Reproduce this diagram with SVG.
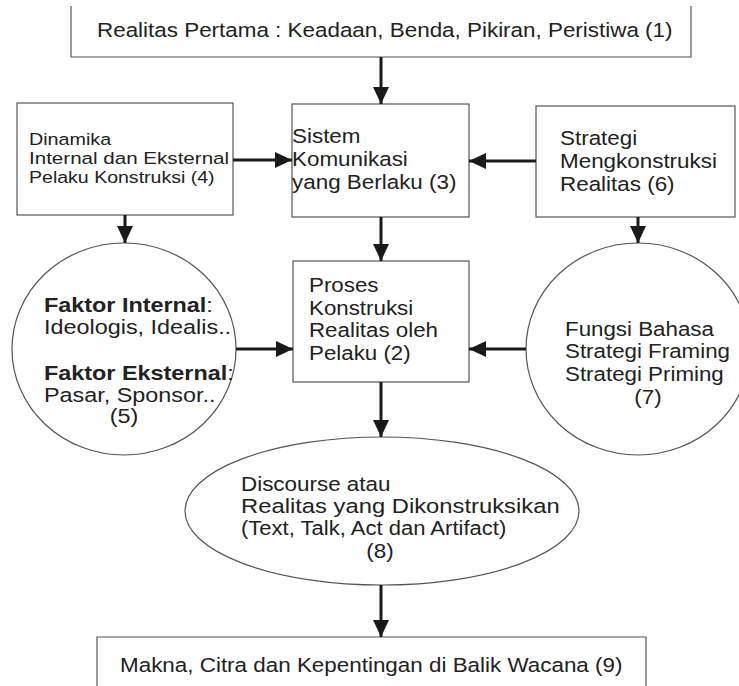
<svg xmlns="http://www.w3.org/2000/svg" width="739" height="686" viewBox="0 0 739 686">
<style>
.box{fill:#fff;stroke:#555;stroke-width:1.2}
.t{font-family:"Liberation Sans",Arial,sans-serif;font-size:19.5px;fill:#222}
.s{font-size:17.3px}
.c{text-anchor:middle}
.b{font-weight:bold}
.ar{stroke:#1a1a1a;stroke-width:3;fill:none;marker-end:url(#ah)}
</style>
<defs>
<marker id="ah" markerUnits="userSpaceOnUse" markerWidth="18" markerHeight="18" viewBox="0 0 18 18" refX="17" refY="9" orient="auto">
<path d="M0,1 L17,9 L0,17 Z" fill="#1a1a1a"/>
</marker>
</defs>
<rect width="739" height="686" fill="#fff"/>
<g id="node1">
<rect x="71" y="6" width="620" height="51" fill="#fff"/>
<path d="M71,6 V57 H691 V6" class="box"/>
<text class="t" transform="translate(97,37) scale(1.15,1)">Realitas Pertama : Keadaan, Benda, Pikiran, Peristiwa (1)</text>
</g>
<g id="node4">
<rect class="box" x="17" y="103" width="216" height="112"/>
<text class="t s" transform="translate(29,145) scale(1.14,1)">Dinamika</text>
<text class="t s" transform="translate(29,164) scale(1.19,1)">Internal dan Eksternal</text>
<text class="t s" transform="translate(29,183) scale(1.13,1)">Pelaku Konstruksi (4)</text>
</g>
<g id="node3">
<rect class="box" x="292" y="104" width="177" height="113"/>
<text class="t" transform="translate(292,143) scale(1.15,1)"><tspan x="0" y="0">Sistem</tspan><tspan x="0" y="23">Komunikasi</tspan><tspan x="0" y="46">yang Berlaku (3)</tspan></text>
</g>
<g id="node6">
<rect class="box" x="536" y="106" width="199" height="111"/>
<text class="t" transform="translate(560,145) scale(1.15,1)"><tspan x="0" y="0">Strategi</tspan><tspan x="0" y="23">Mengkonstruksi</tspan><tspan x="0" y="46">Realitas (6)</tspan></text>
</g>
<g id="node5">
<ellipse class="box" cx="124" cy="349" rx="112" ry="106"/>
<text class="t" transform="translate(44,312) scale(1.2,1)"><tspan x="0" y="0"><tspan class="b">Faktor Internal</tspan>:</tspan><tspan x="0" y="22">Ideologis, Idealis..</tspan><tspan x="0" y="68"><tspan class="b">Faktor Eksternal</tspan>:</tspan><tspan x="0" y="90">Pasar, Sponsor..</tspan></text>
<text class="t c" transform="translate(124,423) scale(1.2,1)">(5)</text>
</g>
<g id="node2">
<rect class="box" x="293" y="261" width="176" height="121"/>
<text class="t" transform="translate(309,292) scale(1.145,1)"><tspan x="0" y="0">Proses</tspan><tspan x="0" y="22.7">Konstruksi</tspan><tspan x="0" y="45.4">Realitas oleh</tspan><tspan x="0" y="68">Pelaku (2)</tspan></text>
</g>
<g id="node7">
<ellipse class="box" cx="638" cy="349" rx="112" ry="106"/>
<text class="t" transform="translate(565,336) scale(1.145,1)"><tspan x="0" y="0">Fungsi Bahasa</tspan><tspan x="0" y="22.5">Strategi Framing</tspan><tspan x="0" y="45">Strategi Priming</tspan></text>
<text class="t c" transform="translate(648,404) scale(1.145,1)">(7)</text>
</g>
<g id="node8">
<ellipse class="box" cx="382" cy="511" rx="197" ry="74"/>
<text class="t" transform="translate(241,491) scale(1.15,1)">Discourse atau</text>
<text class="t" transform="translate(241,513) scale(1.22,1)">Realitas yang Dikonstruksikan</text>
<text class="t" transform="translate(241,535) scale(1.13,1)">(Text, Talk, Act dan Artifact)</text>
<text class="t c" transform="translate(380,558) scale(1.15,1)">(8)</text>
</g>
<g id="node9">
<path d="M97,690 V637 H646 V690" class="box"/>
<text class="t" transform="translate(120,672) scale(1.15,1)">Makna, Citra dan Kepentingan di Balik Wacana (9)</text>
</g>
<g id="connectors">
<line class="ar" x1="381" y1="57" x2="381" y2="104"/>
<line class="ar" x1="233" y1="160" x2="292" y2="160"/>
<line class="ar" x1="536" y1="161" x2="469" y2="161"/>
<line class="ar" x1="125" y1="215" x2="125" y2="243"/>
<line class="ar" x1="638" y1="217" x2="638" y2="243"/>
<line class="ar" x1="381" y1="217" x2="381" y2="261"/>
<line class="ar" x1="236" y1="349" x2="293" y2="349"/>
<line class="ar" x1="526" y1="349" x2="469" y2="349"/>
<line class="ar" x1="381" y1="382" x2="381" y2="437"/>
<line class="ar" x1="381" y1="585" x2="381" y2="637"/>
</g>
</svg>
